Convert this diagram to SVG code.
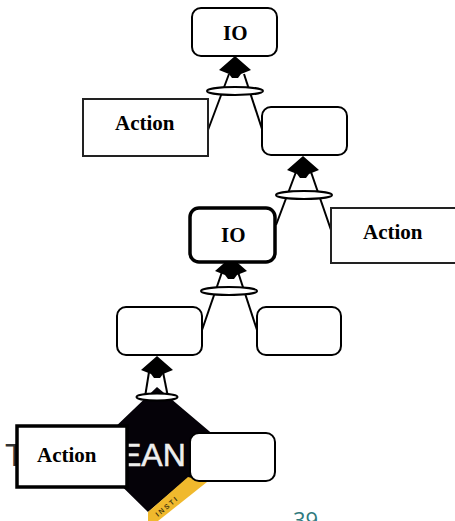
<svg xmlns="http://www.w3.org/2000/svg" width="455" height="521" viewBox="0 0 455 521">
<style>
.n{fill:#fff;stroke:#000;stroke-width:2}
.a{fill:#fff;stroke:#222;stroke-width:2}
.thick{stroke-width:3.5;stroke:#000}
.l{font:bold 21px "Liberation Serif",serif;fill:#000}
.c line{stroke:#000;stroke-width:2}
.e{fill:#fff;stroke:#000;stroke-width:2}
.logo{font:32px "Liberation Sans",sans-serif}
</style>
<defs>
<path id="head" d="M0 0L16 14L6 18L3 22L-3 22L-6 18L-16 14Z" fill="#000"/>
</defs>
<rect width="455" height="521" fill="#fff"/>
<g id="logo">
<polygon points="157,387 222,442 207,482 188,478 148,512 88,453" fill="#050208"/>
<polygon points="188,477 207,482 158,521 148,521 148,512" fill="#f0b92d"/>
<text class="logo" x="5" y="466" fill="#333">T</text>
<text class="logo" x="120" y="466" fill="#eee" stroke="#eee" stroke-width="0.5">EAN</text>
<text x="158" y="517" transform="rotate(-40 158 517)" font-family="Liberation Sans, sans-serif" font-size="7" font-weight="bold" letter-spacing="2" fill="#4a3a10">INSTI</text>
</g>
<text x="293" y="528" font-family="Open Sans, sans-serif" font-size="22" fill="#2f7a7d">39</text>
<g id="connectors" class="c">
<line x1="208" y1="130" x2="229" y2="74"/><line x1="262" y1="129" x2="244" y2="74"/>
<line x1="276" y1="225" x2="296" y2="172"/><line x1="331" y1="230" x2="311" y2="172"/>
<line x1="202" y1="330" x2="222" y2="272"/><line x1="257" y1="330" x2="238" y2="272"/>
<line x1="145" y1="397" x2="149" y2="372"/><line x1="168" y1="397" x2="163" y2="372"/>
<use href="#head" x="235" y="56"/>
<use href="#head" x="303" y="156"/>
<use href="#head" x="231" y="257"/>
<use href="#head" x="157" y="356"/>
<ellipse class="e" cx="235" cy="91" rx="28" ry="4"/>
<ellipse class="e" cx="304" cy="195" rx="28" ry="4"/>
<ellipse class="e" cx="229" cy="291" rx="28" ry="4"/>
<ellipse class="e" cx="157" cy="397" rx="20.5" ry="3.5"/>
</g>
<g id="io-top"><rect class="n" x="192" y="8" width="85" height="48" rx="9"/><text class="l" x="223" y="40">IO</text></g>
<g id="action-1"><rect class="a" x="83" y="99" width="125" height="57"/><text class="l" x="115" y="130">Action</text></g>
<g id="blank-1"><rect class="n" x="262" y="107" width="85" height="48" rx="9"/></g>
<g id="io-mid"><rect class="n thick" x="190" y="208" width="85" height="54" rx="9"/><text class="l" x="221" y="242">IO</text></g>
<g id="action-2"><rect class="a" x="331" y="208" width="125" height="55"/><text class="l" x="363" y="239">Action</text></g>
<g id="blank-2"><rect class="n" x="117" y="307" width="85" height="48" rx="9"/></g>
<g id="blank-3"><rect class="n" x="257" y="307" width="84" height="48" rx="9"/></g>
<g id="action-3"><rect class="n thick" x="17" y="426" width="110" height="61"/><text class="l" x="37" y="462">Action</text></g>
<g id="blank-4"><rect class="n" x="190" y="433" width="85" height="48" rx="9"/></g>
</svg>
